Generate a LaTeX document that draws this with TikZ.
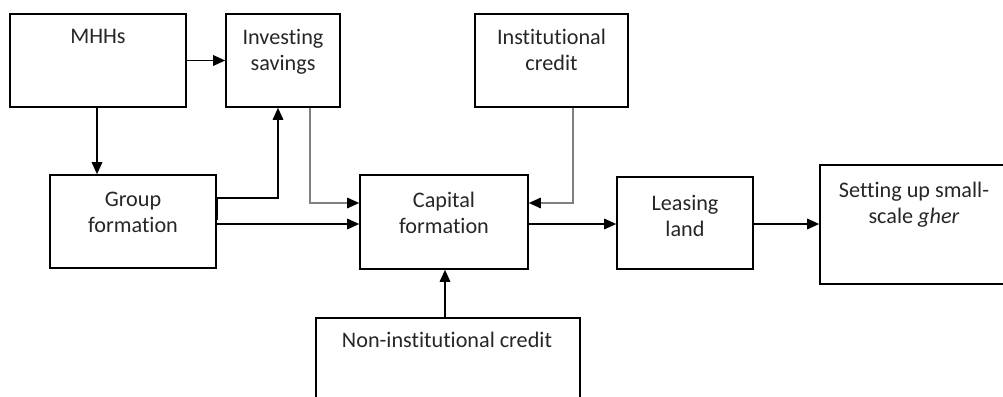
\documentclass[tikz,border=0pt]{standalone}
\usepackage{fontspec}
\setmainfont{Carlito}[Ligatures=NoCommon]
\usetikzlibrary{arrows.meta}
\begin{document}
\begin{tikzpicture}[x=1pt,y=-1pt,
  box/.style={draw=black, line width=1.6pt, inner sep=0pt, rectangle},
  txt/.style={inner sep=0pt, align=center, font=\fontsize{22.2}{26.5}\selectfont, text=black!85},
  arr/.style={line width=1.6pt, -{Triangle[length=12pt,width=10.5pt]}},
  garr/.style={line width=1.6pt, draw=black!50, -{Triangle[length=12pt,width=10.5pt,color=black]}}]
\useasboundingbox (0,0) rectangle (1003,396);
% boxes
\node[box, minimum width=176pt, minimum height=93pt] (mhh) at (98,60.5) {};
\node[box, minimum width=114pt, minimum height=93pt] (inv) at (283,60.5) {};
\node[box, minimum width=153pt, minimum height=93pt] (inst) at (551.5,60.5) {};
\node[box, minimum width=166pt, minimum height=93pt] (grp) at (133,221.5) {};
\node[box, minimum width=168pt, minimum height=94pt] (cap) at (444,222) {};
\node[box, minimum width=136pt, minimum height=92pt] (lease) at (685,223) {};
\node[box, minimum width=188pt, minimum height=119pt] (set) at (914,224.5) {};
\node[box, minimum width=264pt, minimum height=102pt] (non) at (448,369) {};
% texts (multi-line nodes: base = last line)
\node[txt, anchor=base] (mhht) at (98,44) {MHHs};
\node[txt, anchor=base] (invt) at (283,70.5) {Investing\\savings};
\node[txt, anchor=base] (instt) at (551.5,70.5) {Institutional\\credit};
\node[txt, anchor=base] (grpt) at (133,232.5) {Group\\formation};
\node[txt, anchor=base] (capt) at (444,233.5) {Capital\\formation};
\node[txt, anchor=base] (leaset) at (685,236.5) {Leasing\\land};
\node[txt, anchor=base] (sett) at (914,223.5) {Setting up small-\\scale \textit{gher}};
\node[txt, anchor=base] (nont) at (447,347) {Non-institutional credit};
% connectors
\draw[arr] (mhh.east) -- (inv.west);
\draw[arr] (mhh.south -| 97,0) -- (grp.north -| 97,0);
\draw[arr] (grp.east |- 0,198) -- (278,198) -- (inv.south -| 278,0);
\draw[arr] (grp.east |- 0,224) -- (cap.west |- 0,224);
\draw[garr] (inv.south -| 310,0) |- (cap.west |- 0,203);
\draw[garr] (inst.south -| 573,0) |- (cap.east |- 0,203);
\draw[arr] (cap.east |- 0,224) -- (lease.west |- 0,224);
\draw[arr] (lease.east |- 0,224) -- (set.west |- 0,224);
\draw[arr] (non.north -| 445,0) -- (cap.south -| 445,0);
\draw[line width=2.8pt] ([xshift=-0.5pt]grp.east |- 0,197) -- ([xshift=-0.5pt]grp.east |- 0,220);
\end{tikzpicture}
\end{document}
